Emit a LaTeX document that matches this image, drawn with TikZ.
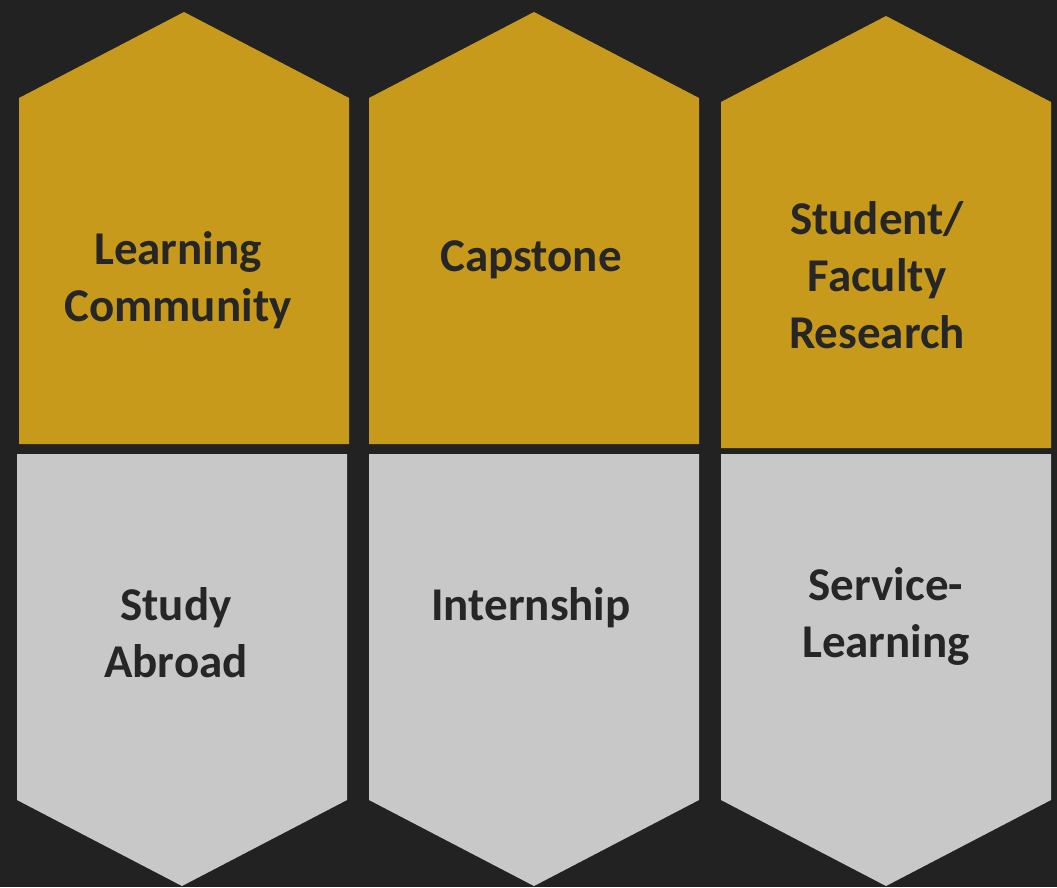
\documentclass[tikz,border=0pt]{standalone}
\usepackage{fontspec}
\setmainfont{Carlito}
\definecolor{bgdark}{HTML}{222222}
\definecolor{gold}{HTML}{C89A1C}
\definecolor{lightgray}{HTML}{C8C8C8}
\definecolor{inkdark}{HTML}{262626}
\tikzset{
  goldshape/.style={fill=gold},
  grayshape/.style={fill=lightgray},
  label/.style={align=center, inner sep=0pt, anchor=base, text=inkdark,
    font=\fontsize{47}{57}\selectfont\bfseries}
}
\begin{document}
\begin{tikzpicture}[x=1pt, y=-1pt]
   \fill[bgdark] (0,0) rectangle (1057,887);
   \useasboundingbox (0,0) rectangle (1057,887);

   % top row
   \fill[goldshape] (19,444) -- (19,98) -- (184,12) -- (349,98) -- (349,444) -- cycle;
   \fill[goldshape] (369,444) -- (369,98) -- (534,12) -- (699,98) -- (699,444) -- cycle;
   \fill[goldshape] (721,448) -- (721,102) -- (886,16) -- (1051,102) -- (1051,448) -- cycle;

   % bottom row
   \fill[grayshape] (17,454) -- (347,454) -- (347,800) -- (182,886) -- (17,800) -- cycle;
   \fill[grayshape] (369,454) -- (699,454) -- (699,800) -- (534,886) -- (369,800) -- cycle;
   \fill[grayshape] (721,454) -- (1051,454) -- (1051,800) -- (886,886) -- (721,800) -- cycle;

   \node[label] (learning) at (178,321) {Learning\\Community};
   \node[label] (capstone) at (531,271) {Capstone};
   \node[label] (research) at (877,348) {Student/\\Faculty\\Research};
   \node[label] (abroad) at (176,677) {Study\\Abroad};
   \node[label] (internship) at (531,620) {Internship};
   \node[label] (service) at (886,657) {Service-\\Learning};
\end{tikzpicture}
\end{document}
